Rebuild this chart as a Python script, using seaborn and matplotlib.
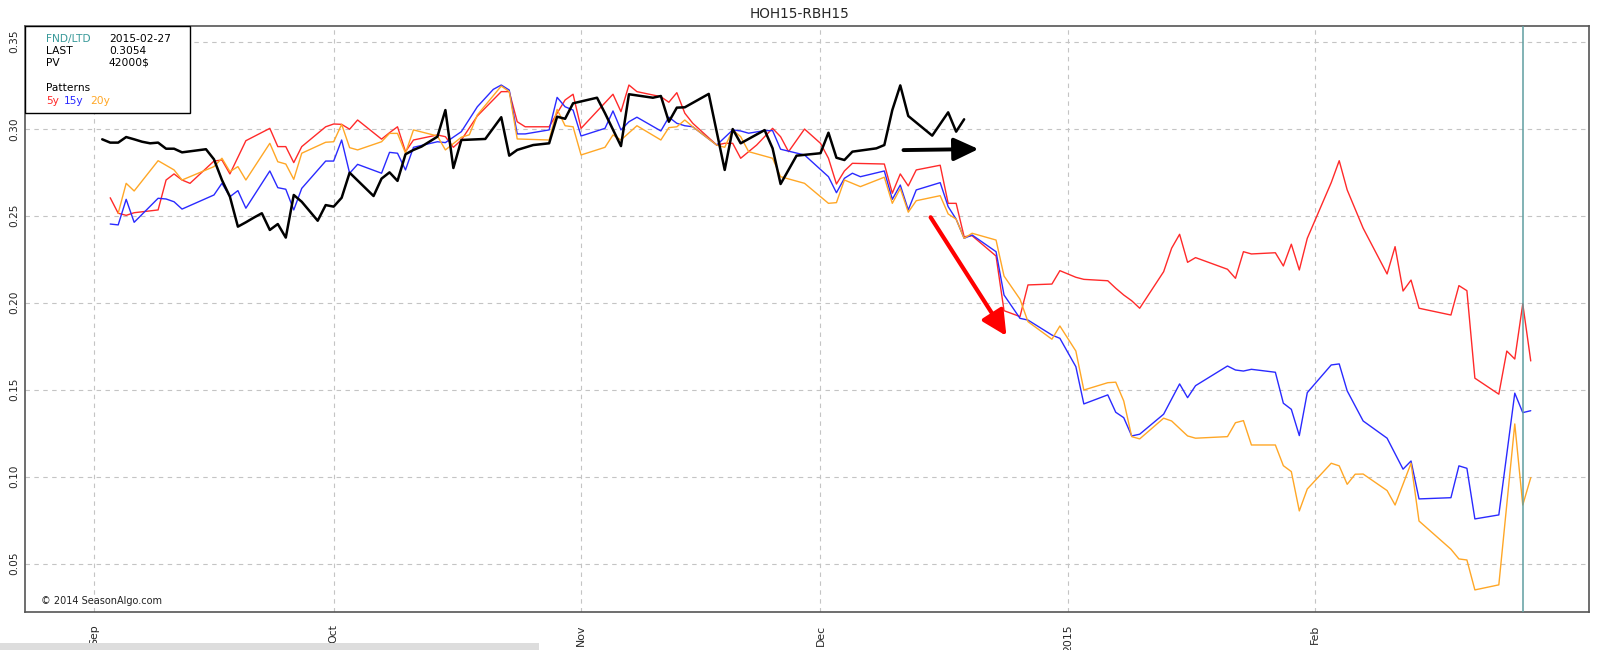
import numpy as np
import pandas as pd
import matplotlib
matplotlib.use("Agg")
import matplotlib.pyplot as plt
from matplotlib.patches import Rectangle
import seaborn as sns

# ---------------- data (days since 2014-09-01, values) ----------------
title = "HOH15-RBH15"
month_ticks = ["2014-09-01", "2014-10-01", "2014-11-01", "2014-12-01", "2015-01-01", "2015-02-01"]
month_labels = ["Sep", "Oct", "Nov", "Dec", "2015", "Feb"]
y_ticks = [0.05, 0.10, 0.15, 0.20, 0.25, 0.30, 0.35]
fnd_date = "2015-02-27"
last_value = "0.3054"
pv_value = "42000$"

cur_days = [1, 2, 3, 4, 5, 6, 7, 8, 9, 10, 11, 12, 14, 15, 16, 17, 18, 19, 20, 21, 22, 23, 24, 25, 26, 28, 29,
            30, 31, 32, 35, 36, 37, 38, 39, 40, 41, 43, 44, 45, 46, 49, 51, 52, 53, 55, 57, 58, 59, 60,
            63, 64, 66, 67, 70, 71, 72, 73, 74, 77, 79, 80, 81, 84, 85, 86, 88, 91, 92, 93, 94, 95, 98,
            99, 100, 101, 102, 105, 107, 108, 109]
cur_vals = [0.2939, 0.292, 0.292, 0.2952, 0.2939, 0.2925, 0.2916, 0.292, 0.2885, 0.2885, 0.2864, 0.287,
            0.2882, 0.2824, 0.2705, 0.2609, 0.2437, 0.2462, 0.2489, 0.2514, 0.2418, 0.2452, 0.2374, 0.2619,
            0.258, 0.2471, 0.2561, 0.2552, 0.2603, 0.2747, 0.2613, 0.2713, 0.2749, 0.27, 0.2853, 0.2878,
            0.2897, 0.2954, 0.3107, 0.2774, 0.2935, 0.2941, 0.3066, 0.2845, 0.2878, 0.2906, 0.2916, 0.3069,
            0.3057, 0.3146, 0.3178, 0.3089, 0.29, 0.3198, 0.3178, 0.3188, 0.304, 0.3121, 0.3123, 0.32,
            0.2763, 0.2998, 0.2916, 0.2992, 0.2887, 0.2682, 0.2845, 0.2859, 0.2977, 0.2833, 0.282, 0.2868,
            0.2887, 0.2906, 0.3107, 0.3249, 0.3073, 0.296, 0.3094, 0.2983, 0.3054]

y5_days = [2, 3, 4, 5, 8, 9, 10, 11, 12, 15, 16, 17, 19, 22, 23, 24, 25, 26, 29, 30, 31, 32, 33, 36, 37, 38,
           39, 40, 43, 44, 45, 46, 48, 51, 52, 53, 54, 57, 58, 59, 60, 61, 65, 66, 67, 68, 71, 72, 73, 74,
           75, 78, 79, 80, 81, 83, 85, 86, 87, 89, 91, 92, 93, 94, 95, 99, 100, 101, 102, 103, 106, 107,
           108, 109, 110, 113, 114, 116, 117, 120, 121, 123, 124, 127, 128, 129, 130, 131, 134, 135, 136,
           137, 138, 142, 143, 144, 145, 148, 149, 150, 151, 152, 155, 156, 157, 159, 162, 163, 164, 165,
           166, 170, 171, 172, 173, 176, 177, 178, 179, 180]
y5_vals = [0.2603, 0.2514, 0.2502, 0.2517, 0.2533, 0.2705, 0.274, 0.2705, 0.2686, 0.2814, 0.282, 0.274,
           0.2931, 0.3002, 0.2897, 0.2897, 0.2805, 0.2897, 0.3011, 0.3027, 0.3025, 0.2997, 0.305, 0.294,
           0.2977, 0.3011, 0.2868, 0.2935, 0.2964, 0.2954, 0.2893, 0.2935, 0.3073, 0.3213, 0.3213, 0.304,
           0.3011, 0.3011, 0.3089, 0.3165, 0.3198, 0.3002, 0.3198, 0.3098, 0.3251, 0.3213, 0.3184, 0.3152,
           0.3207, 0.3089, 0.3031, 0.2906, 0.2916, 0.2916, 0.283, 0.2906, 0.3002, 0.2954, 0.2868, 0.2998,
           0.2916, 0.283, 0.2682, 0.2757, 0.2801, 0.2797, 0.2629, 0.274, 0.2671, 0.2763, 0.279, 0.2571,
           0.2571, 0.2379, 0.2385, 0.2268, 0.1954, 0.192, 0.2102, 0.2107, 0.2184, 0.2146, 0.2134, 0.2126,
           0.2083, 0.2044, 0.2011, 0.1968, 0.2178, 0.2313, 0.2393, 0.2232, 0.2259, 0.2192, 0.214, 0.2293,
           0.228, 0.2287, 0.2211, 0.2336, 0.2188, 0.237, 0.269, 0.2816, 0.2648, 0.2428, 0.2165, 0.2322,
           0.2067, 0.213, 0.1968, 0.1929, 0.2098, 0.2069, 0.1566, 0.1474, 0.1722, 0.1676, 0.1993, 0.1665]

y15_days = [2, 3, 4, 5, 8, 9, 10, 11, 15, 16, 17, 18, 19, 22, 23, 24, 25, 26, 29, 30, 31, 32, 33, 36, 37, 38,
            39, 40, 43, 44, 46, 48, 50, 51, 52, 53, 54, 57, 58, 59, 60, 61, 64, 65, 66, 67, 68, 71, 72, 73,
            74, 75, 78, 80, 81, 82, 84, 85, 86, 89, 92, 93, 94, 95, 96, 99, 100, 101, 102, 103, 106, 107,
            108, 109, 110, 113, 114, 116, 117, 120, 121, 123, 124, 127, 128, 129, 130, 131, 134, 136, 137,
            138, 142, 143, 144, 145, 148, 149, 150, 151, 152, 155, 156, 157, 159, 162, 164, 165, 166, 170,
            171, 172, 173, 176, 178, 179, 180]
y15_vals = [0.2452, 0.2447, 0.2594, 0.2462, 0.26, 0.2596, 0.258, 0.2538, 0.2619, 0.2686, 0.2609, 0.2644,
            0.2543, 0.2757, 0.2661, 0.2652, 0.2533, 0.2657, 0.2814, 0.2814, 0.2935, 0.2744, 0.2795, 0.2744,
            0.2864, 0.2859, 0.2763, 0.2893, 0.2925, 0.292, 0.2983, 0.3126, 0.3226, 0.3251, 0.3222, 0.297,
            0.297, 0.2993, 0.318, 0.3126, 0.3107, 0.2958, 0.3002, 0.3102, 0.2993, 0.304, 0.3066, 0.2987,
            0.3066, 0.3031, 0.3017, 0.3011, 0.2906, 0.2993, 0.2987, 0.2974, 0.2989, 0.2989, 0.2882, 0.2849,
            0.2724, 0.2632, 0.2715, 0.2744, 0.2724, 0.2757, 0.2594, 0.2676, 0.2533, 0.2648, 0.269, 0.2552,
            0.248, 0.237, 0.2389, 0.2293, 0.2044, 0.191, 0.19, 0.1814, 0.1795, 0.1632, 0.1418, 0.147, 0.137,
            0.1339, 0.1234, 0.1244, 0.1359, 0.1533, 0.1454, 0.1523, 0.1636, 0.1613, 0.1607, 0.1617, 0.16,
            0.1422, 0.1387, 0.1236, 0.1483, 0.1642, 0.1648, 0.1493, 0.132, 0.1221, 0.1043, 0.109, 0.0872,
            0.0879, 0.1062, 0.1048, 0.0757, 0.078, 0.148, 0.1368, 0.1379]

y20_days = [3, 4, 5, 8, 10, 11, 15, 16, 17, 18, 19, 22, 23, 24, 25, 26, 29, 30, 31, 32, 33, 36, 37, 38, 39,
            40, 43, 44, 46, 47, 48, 51, 52, 53, 57, 58, 59, 60, 61, 64, 65, 66, 68, 71, 72, 73, 74, 75, 78,
            79, 80, 81, 82, 85, 86, 89, 92, 93, 94, 96, 99, 100, 101, 102, 103, 106, 107, 108, 109, 110, 113,
            114, 116, 117, 120, 121, 123, 124, 127, 128, 129, 130, 131, 134, 135, 137, 138, 142, 143, 144,
            145, 148, 149, 150, 151, 152, 155, 156, 157, 158, 159, 162, 163, 165, 166, 170, 171, 172, 173,
            176, 178, 179, 180]
y20_vals = [0.2514, 0.2686, 0.2642, 0.2816, 0.2763, 0.2705, 0.2782, 0.283, 0.2753, 0.2782, 0.2705, 0.2916,
            0.281, 0.2797, 0.2709, 0.2859, 0.2922, 0.2925, 0.3025, 0.2891, 0.2878, 0.2925, 0.2973, 0.2973,
            0.2859, 0.2993, 0.2958, 0.2878, 0.2951, 0.2965, 0.3079, 0.3245, 0.3213, 0.2941, 0.2935, 0.3111,
            0.3017, 0.3011, 0.2849, 0.2893, 0.2964, 0.2935, 0.3017, 0.2935, 0.3006, 0.3011, 0.305, 0.3011,
            0.2906, 0.2893, 0.2993, 0.2954, 0.2868, 0.283, 0.2724, 0.2686, 0.2571, 0.2575, 0.2705, 0.2667,
            0.2721, 0.2571, 0.2657, 0.252, 0.2586, 0.2615, 0.251, 0.248, 0.237, 0.2399, 0.236, 0.2153, 0.202,
            0.1891, 0.179, 0.1866, 0.1722, 0.1498, 0.154, 0.1543, 0.1435, 0.123, 0.1217, 0.1336, 0.132,
            0.1234, 0.1221, 0.123, 0.131, 0.1322, 0.1182, 0.1182, 0.1063, 0.1029, 0.0803, 0.0929, 0.1077,
            0.1062, 0.0956, 0.1014, 0.1015, 0.092, 0.0837, 0.1077, 0.0745, 0.0583, 0.0527, 0.0521, 0.0349,
            0.0378, 0.1303, 0.0837, 0.0994]

base = pd.Timestamp("2014-09-01")


def to_dates(days):
    return base + pd.to_timedelta(np.asarray(days, dtype=float), unit="D")


def d(x):
    return base + pd.Timedelta(days=x)


# ---------------- figure ----------------
sns.set_style("white")
plt.rcParams["font.family"] = ["DejaVu Sans"]

fig = plt.figure(figsize=(16, 6.5), dpi=100)
ax = fig.add_axes([24.5 / 1600, 1 - 612 / 650, (1589 - 24.5) / 1600, (612 - 25.7) / 650])

series = [
    (y5_days, y5_vals, "#ff2a2a", 1.0),
    (y15_days, y15_vals, "#2a2aff", 1.0),
    (y20_days, y20_vals, "#ffa726", 1.0),
    (cur_days, cur_vals, "black", 1.8),
]
for days, vals, col, lw in series:
    sns.lineplot(x=to_dates(days), y=vals, color=col, lw=lw, ax=ax, zorder=3)

ax.axvline(pd.Timestamp(fnd_date), color="#5f9ea0", lw=1.1, zorder=4)

ax.set_xlim(d(-8.74), d(187.3))
ax.set_ylim(0.0222, 0.3592)

ax.set_xticks(pd.to_datetime(month_ticks))
ax.set_xticklabels(month_labels, rotation=90, fontsize=7.8)
ax.set_yticks(y_ticks)
ax.set_yticklabels([f"{v:.2f}" for v in y_ticks], rotation=90, va="center", fontsize=7.6)
ax.tick_params(axis="x", length=0, pad=9.0)
ax.tick_params(axis="y", length=0, pad=4)
ax.set_xlabel("")
ax.set_ylabel("")

ax.grid(True, ls=(0, (4, 4)), color="#c4c4c4", lw=0.8)
ax.set_axisbelow(True)
for s in ax.spines.values():
    s.set_visible(True)
    s.set_color("#555555")
    s.set_linewidth(1.2)

# arrows
ax.annotate("", xy=(d(110.8), 0.2883), xytext=(d(101.4), 0.2877),
            arrowprops=dict(arrowstyle="-|>,head_length=0.6,head_width=0.28", color="black",
                            lw=2.8, mutation_scale=25, shrinkA=0, shrinkB=0), zorder=5)
ax.annotate("", xy=(d(114.3), 0.1809), xytext=(d(104.8), 0.2491),
            arrowprops=dict(arrowstyle="-|>,head_length=0.6,head_width=0.3", color="red",
                            lw=3.0, mutation_scale=25, shrinkA=0, shrinkB=0), zorder=5)

# info box
ax.add_patch(Rectangle((0, 1 - 0.1489), 0.1055, 0.1489, transform=ax.transAxes,
                       facecolor="white", edgecolor="black", lw=1.0, zorder=6))
fs = 7.7
x1, x2 = 0.01374, 0.054
ax.text(x1, 0.9773, "FND/LTD", color="#3a9a9a", fontsize=fs, va="center", transform=ax.transAxes, zorder=7)
ax.text(x2, 0.9773, fnd_date, color="black", fontsize=fs, va="center", transform=ax.transAxes, zorder=7)
ax.text(x1, 0.9568, "LAST", color="black", fontsize=fs, va="center", transform=ax.transAxes, zorder=7)
ax.text(x2, 0.9568, last_value, color="black", fontsize=fs, va="center", transform=ax.transAxes, zorder=7)
ax.text(x1, 0.9364, "PV", color="black", fontsize=fs, va="center", transform=ax.transAxes, zorder=7)
ax.text(x2, 0.9364, pv_value, color="black", fontsize=fs, va="center", transform=ax.transAxes, zorder=7)
ax.text(x1, 0.8937, "Patterns", color="black", fontsize=fs, va="center", transform=ax.transAxes, zorder=7)
ax.text(x1, 0.8716, "5y", color="#ff2a2a", fontsize=fs, va="center", transform=ax.transAxes, zorder=7)
ax.text(0.02544, 0.8716, "15y", color="#2a2aff", fontsize=fs, va="center", transform=ax.transAxes, zorder=7)
ax.text(0.04218, 0.8716, "20y", color="#ffa726", fontsize=fs, va="center", transform=ax.transAxes, zorder=7)

ax.text(0.01055, 0.0193, "© 2014 SeasonAlgo.com", color="#222222", fontsize=7, va="center",
        transform=ax.transAxes, zorder=7)

fig.text(0.5, 1 - 14 / 650, title, ha="center", va="center", fontsize=9.8)

# browser scrollbar strip at the bottom-left
fig.patches.append(Rectangle((0, 0), 539 / 1600, 7 / 650, transform=fig.transFigure,
                             facecolor="#dddddd", edgecolor="none"))

fig.savefig("out.png", dpi=100)
